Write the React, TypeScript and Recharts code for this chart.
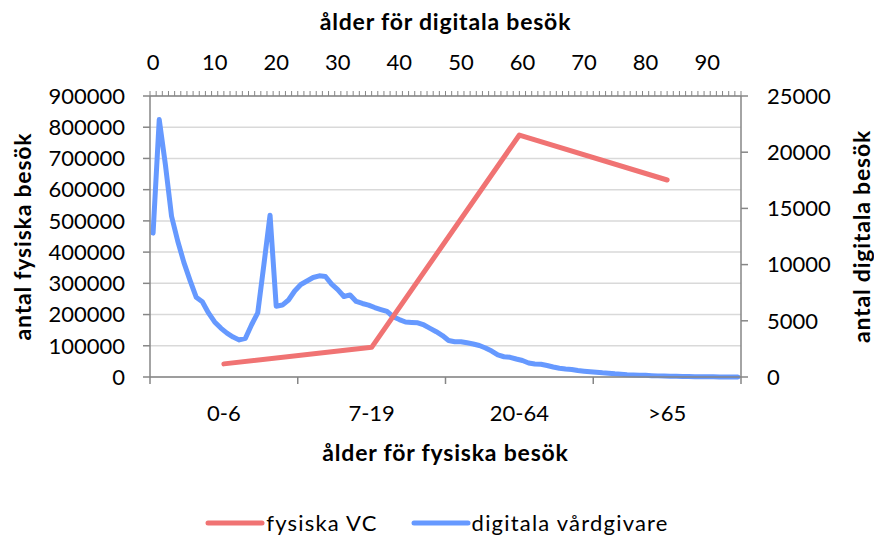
import React from 'react';
import { LineChart, Line, XAxis, YAxis, CartesianGrid, Legend } from 'recharts';

const FONT = 'Lato, "Open Sans", sans-serif';
const RED = '#F07373';
const BLUE = '#6699FF';
const AXIS = '#868686';
const GRID = '#D9D9D9';
const TICK_FONT = 22;
const TITLE_FONT = 23;

const physicalGroups = ['0-6', '7-19', '20-64', '>65'];
const physicalVisits = [42000, 95000, 775000, 631000];

const digitalAges = [
  0, 1, 2, 3, 4, 5, 6, 7, 8, 9, 10, 11, 12, 13, 14, 15, 16, 17, 18, 19,
  20, 21, 22, 23, 24, 25, 26, 27, 28, 29, 30, 31, 32, 33, 34, 35, 36, 37, 38, 39,
  40, 41, 42, 43, 44, 45, 46, 47, 48, 49, 50, 51, 52, 53, 54, 55, 56, 57, 58, 59,
  60, 61, 62, 63, 64, 65, 66, 67, 68, 69, 70, 71, 72, 73, 74, 75, 76, 77, 78, 79,
  80, 81, 82, 83, 84, 85, 86, 87, 88, 89, 90, 91, 92, 93, 94, 95,
];
const digitalVisits = [
  12800, 22900, 18900, 14300, 12100, 10200, 8600, 7100, 6700, 5700,
  4900, 4350, 3900, 3550, 3300, 3450, 4650, 5700, 10000, 14400,
  6300, 6400, 6850, 7650, 8230, 8540, 8850, 9000, 8940, 8270,
  7780, 7160, 7300, 6720, 6540, 6400, 6180, 6000, 5830, 5360,
  5110, 4890, 4850, 4820, 4630, 4330, 4030, 3690, 3250, 3140,
  3140, 3040, 2940, 2800, 2580, 2310, 1960, 1800, 1750, 1600,
  1470, 1250, 1160, 1130, 1020, 890, 780, 710, 670, 580,
  520, 470, 420, 370, 340, 280, 240, 200, 180, 160,
  150, 120, 100, 80, 70, 60, 50, 40, 30, 25,
  20, 15, 10, 8, 5, 3,
];

const topTickLabels = [0, 10, 20, 30, 40, 50, 60, 70, 80, 90];
const leftTicks = [0, 100000, 200000, 300000, 400000, 500000, 600000, 700000, 800000, 900000];
const rightTicks = [0, 5000, 10000, 15000, 20000, 25000];

const legendItems = [
  { name: 'fysiska VC', color: RED },
  { name: 'digitala vårdgivare', color: BLUE },
];

const physicalData = physicalGroups.map((group, i) => ({ group, physical: physicalVisits[i] }));
const digitalData = digitalAges.map((age, i) => ({ age, digital: digitalVisits[i] }));

function TopTick(props: any) {
  const { y, payload, index } = props;
  const c = payload.coordinate;
  const off = payload.offset ?? 0;
  const last = index === digitalAges.length - 1;
  return (
    <g>
      <line x1={c - off} x2={c - off} y1={y - 5} y2={y} stroke={AXIS} strokeWidth={1} />
      {last && <line x1={c + off} x2={c + off} y1={y - 5} y2={y} stroke={AXIS} strokeWidth={1} />}
      {topTickLabels.includes(payload.value) && (
        <text x={c} y={y - 26} textAnchor="middle" fontSize={TICK_FONT} fontFamily={FONT} fill="#000">
          {payload.value}
        </text>
      )}
    </g>
  );
}

function BottomTick(props: any) {
  const { y, payload, index } = props;
  const c = payload.coordinate;
  const off = payload.offset ?? 0;
  const last = index === physicalGroups.length - 1;
  return (
    <g>
      <line x1={c - off} x2={c - off} y1={y} y2={y + 7} stroke={AXIS} strokeWidth={1.5} />
      {last && <line x1={c + off} x2={c + off} y1={y} y2={y + 7} stroke={AXIS} strokeWidth={1.5} />}
      <text x={c} y={y + 44} textAnchor="middle" fontSize={TICK_FONT} fontFamily={FONT} fill="#000">
        {payload.value}
      </text>
    </g>
  );
}

const hTitle = (text: string, dy: number) => (props: any) => {
  const vb = props.viewBox;
  return (
    <text x={vb.x + vb.width / 2} y={vb.y + dy} textAnchor="middle" fontSize={TITLE_FONT}
      fontWeight="bold" fontFamily={FONT} fill="#000" letterSpacing={0.8}>
      {text}
    </text>
  );
};

const vTitle = (text: string, dx: number) => (props: any) => {
  const vb = props.viewBox;
  const cx = vb.x + dx;
  const cy = vb.y + vb.height / 2;
  return (
    <text x={cx} y={cy} transform={`rotate(-90 ${cx} ${cy})`} textAnchor="middle" dominantBaseline="central"
      fontSize={TITLE_FONT} fontWeight="bold" fontFamily={FONT} fill="#000" letterSpacing={0.8}>
      {text}
    </text>
  );
};

const renderLegend = () => (
  <div style={{ display: 'flex', justifyContent: 'center', alignItems: 'center', fontFamily: FONT, fontSize: TICK_FONT, color: '#000', lineHeight: '30px', letterSpacing: 1.2 }}>
    {legendItems.map((it, i) => (
      <div key={it.name} style={{ display: 'flex', alignItems: 'center', marginLeft: i > 0 ? 33 : 0 }}>
        <svg width={60} height={10} style={{ marginRight: 1 }}>
          <line x1={3} x2={57} y1={5} y2={5} stroke={it.color} strokeWidth={5} strokeLinecap="round" />
        </svg>
        <span>{it.name}</span>
      </div>
    ))}
  </div>
);

export default function App() {
  return (
    <div style={{ position: 'absolute', left: 0, top: 0, width: 874, height: 536, background: '#fff' }}>
      <LineChart width={874} height={536} margin={{ top: 0, right: 0, bottom: 0, left: 0 }} style={{ fontFamily: FONT }}>
        <CartesianGrid xAxisId="bottom" yAxisId="left" vertical={false} stroke={GRID} strokeWidth={1.5} />
        <XAxis xAxisId="top" orientation="top" dataKey="age" type="category" scale="band" height={96}
          interval={0} tickSize={0} tickMargin={0} tick={<TopTick />} tickLine={false}
          axisLine={{ stroke: AXIS, strokeWidth: 1.5 }} label={{ content: hTitle('ålder för digitala besök', 30) }} />
        <XAxis xAxisId="bottom" orientation="bottom" dataKey="group" type="category" scale="band" height={159}
          interval={0} tickSize={0} tickMargin={0} tick={<BottomTick />} tickLine={false}
          axisLine={{ stroke: AXIS, strokeWidth: 1.5 }} label={{ content: hTitle('ålder för fysiska besök', 84) }} />
        <YAxis yAxisId="left" orientation="left" width={150} domain={[0, 900000]} ticks={leftTicks} interval={0}
          tickSize={7} tickMargin={18} tick={{ fontSize: TICK_FONT, fontFamily: FONT, fill: '#000' }}
          tickLine={{ stroke: AXIS, strokeWidth: 1.5 }} axisLine={{ stroke: AXIS, strokeWidth: 1.5 }}
          label={{ content: vTitle('antal fysiska besök', 22) }} />
        <YAxis yAxisId="right" orientation="right" width={133} domain={[0, 25000]} ticks={rightTicks} interval={0}
          tickSize={7} tickMargin={19} tick={{ fontSize: TICK_FONT, fontFamily: FONT, fill: '#000' }}
          tickLine={{ stroke: AXIS, strokeWidth: 1.5 }} axisLine={{ stroke: AXIS, strokeWidth: 1.5 }}
          label={{ content: vTitle('antal digitala besök', 120) }} />
        <Line data={digitalData} xAxisId="top" yAxisId="right" dataKey="digital" name="digitala vårdgivare"
          stroke={BLUE} strokeWidth={5} dot={false} activeDot={false} strokeLinecap="round" strokeLinejoin="round"
          isAnimationActive={false} />
        <Line data={physicalData} xAxisId="bottom" yAxisId="left" dataKey="physical" name="fysiska VC"
          stroke={RED} strokeWidth={5} dot={false} activeDot={false} strokeLinecap="round" strokeLinejoin="round"
          isAnimationActive={false} />
        <Legend layout="horizontal" verticalAlign="middle" align="center" content={renderLegend}
          wrapperStyle={{ top: 508, left: 0, width: 874, height: 30 }} />
      </LineChart>
    </div>
  );
}
